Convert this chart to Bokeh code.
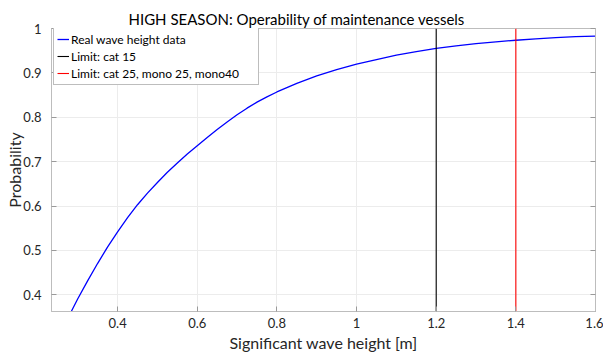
from bokeh.plotting import figure
from bokeh.models import Range1d, FixedTicker, Legend, LegendItem, LinearAxis
from bokeh.embed import file_html
from bokeh.resources import INLINE

# ---- data ----
wave_height = [0.284, 0.300, 0.325, 0.350, 0.375, 0.400, 0.425, 0.450, 0.475, 0.500,
               0.525, 0.550, 0.575, 0.600, 0.625, 0.650, 0.675, 0.700, 0.725, 0.750,
               0.775, 0.800, 0.85, 0.90, 0.95, 1.00, 1.05, 1.10, 1.15, 1.20,
               1.25, 1.30, 1.35, 1.40, 1.45, 1.50, 1.55, 1.60]
probability = [0.363, 0.391, 0.432, 0.471, 0.508, 0.542, 0.574, 0.603, 0.629, 0.653,
               0.676, 0.697, 0.717, 0.736, 0.7545, 0.7725, 0.7895, 0.8055, 0.8205, 0.834,
               0.846, 0.857, 0.8765, 0.8935, 0.9075, 0.9195, 0.930, 0.940, 0.948, 0.955,
               0.961, 0.966, 0.970, 0.9735, 0.9767, 0.9795, 0.9815, 0.983]
limit_cat15 = 1.2
limit_cat25 = 1.4

x_ticks = [0.4, 0.6, 0.8, 1.0, 1.2, 1.4, 1.6]
x_tick_labels = ["0.4", "0.6", "0.8", "1", "1.2", "1.4", "1.6"]
y_ticks = [0.4, 0.5, 0.6, 0.7, 0.8, 0.9, 1.0]
y_tick_labels = ["0.4", "0.5", "0.6", "0.7", "0.8", "0.9", "1"]

x_min, x_max = 0.234, 1.6
y_min, y_max = 0.3624, 1.0

FONT = "Lato"
TXT = "#262626"
FRAME = "#bdbdbd"

p = figure(width=603, height=356, output_backend="svg", toolbar_location=None,
           x_range=Range1d(x_min, x_max), y_range=Range1d(y_min, y_max),
           min_border_left=51, min_border_right=8, min_border_top=28, min_border_bottom=45,
           title="HIGH SEASON: Operability of maintenance vessels")
p.background_fill_color = "white"
p.border_fill_color = "white"
p.outline_line_color = FRAME
p.outline_line_width = 1

p.title.text_font = FONT
p.title.text_font_size = "15px"
p.title.text_font_style = "normal"
p.title.text_color = "black"
p.title.align = "left"
p.title.offset = 77
p.title.standoff = 2

for ax, ticks, labels in ((p.xaxis[0], x_ticks, x_tick_labels), (p.yaxis[0], y_ticks, y_tick_labels)):
    ax.ticker = FixedTicker(ticks=ticks)
    ax.major_label_overrides = {t: l for t, l in zip(ticks, labels)}
    ax.minor_tick_line_color = None
    ax.major_tick_in = 5
    ax.major_tick_out = 0
    ax.major_tick_line_color = "#9a9a9a"
    ax.axis_line_color = FRAME
    ax.major_label_text_font = FONT
    ax.major_label_text_font_size = "13px"
    ax.major_label_text_color = TXT
    ax.axis_label_text_font = FONT
    ax.axis_label_text_font_size = "16px"
    ax.axis_label_text_font_style = "normal"
    ax.axis_label_text_color = TXT

p.xaxis.axis_label = "Significant wave height [m]"
p.yaxis.axis_label = "Probability"
p.xaxis.major_label_standoff = 6
p.xaxis.axis_label_standoff = 2
p.yaxis.major_label_standoff = 10
p.yaxis.axis_label_standoff = -4

right = LinearAxis(ticker=FixedTicker(ticks=y_ticks), major_label_text_font_size="0px",
                   major_tick_in=5, major_tick_out=0, major_tick_line_color="#9a9a9a",
                   minor_tick_line_color=None, axis_line_color=FRAME, major_label_standoff=0)
p.add_layout(right, "right")

p.xgrid.ticker = FixedTicker(ticks=x_ticks)
p.ygrid.ticker = FixedTicker(ticks=y_ticks)
p.grid.grid_line_color = "#ececec"
p.grid.grid_line_width = 1

r_data = p.line(wave_height, probability, line_color="#0000ff", line_width=1.3)
r_c15 = p.line([limit_cat15, limit_cat15], [y_min, y_max], line_color="#000000", line_width=1.1)
r_c25 = p.line([limit_cat25, limit_cat25], [y_min, y_max], line_color="#ff0000", line_width=1.1)

legend = Legend(items=[
    LegendItem(label="Real wave height data", renderers=[r_data]),
    LegendItem(label="Limit: cat 15", renderers=[r_c15]),
    LegendItem(label="Limit: cat 25, mono 25, mono40", renderers=[r_c25]),
], location=(2, 226))
legend.label_text_font = FONT
legend.label_text_font_size = "12px"
legend.label_text_color = "black"
legend.glyph_width = 12
legend.glyph_height = 16
legend.label_height = 16
legend.label_standoff = 2
legend.spacing = 1
legend.padding = 3
legend.margin = 0
legend.label_width = 184
legend.border_line_color = FRAME
legend.border_line_alpha = 1
legend.border_line_width = 1
legend.background_fill_color = "white"
legend.background_fill_alpha = 1
p.add_layout(legend, "center")

open("out.html", "w").write(file_html(p, INLINE))
